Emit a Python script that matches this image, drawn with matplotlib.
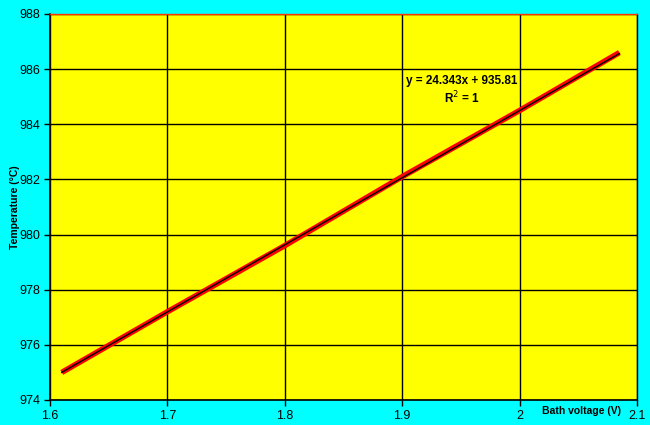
import matplotlib
matplotlib.use("Agg")
import matplotlib.pyplot as plt
import numpy as np

plt.rcParams["font.family"] = ["Liberation Sans", "DejaVu Sans"]

# Data
voltage = [1.61, 1.70, 1.80, 1.90, 2.00, 2.085]
temperature = [975.0, 977.2, 979.6, 982.1, 984.5, 986.6]
slope = 24.343
intercept = 935.81
xticks = [1.6, 1.7, 1.8, 1.9, 2.0, 2.1]
xticklabels = ["1.6", "1.7", "1.8", "1.9", "2", "2.1"]
yticks = [974, 976, 978, 980, 982, 984, 986, 988]

fig = plt.figure(figsize=(6.5, 4.25), dpi=100, facecolor="#00FFFF")
ax = fig.add_axes([50/650, 25/425, 587/650, 386/425])
ax.set_facecolor("#FFFF00")

ax.plot(voltage, temperature, color="#FF0000", lw=4.0, solid_capstyle="butt", zorder=3)
xt = np.array([voltage[0], voltage[-1]])
ax.plot(xt, slope * xt + intercept, color="black", lw=1.0, zorder=4)

ax.set_xlim(1.6, 2.1)
ax.set_ylim(974, 988)
ax.set_xticks(xticks)
ax.set_xticklabels(xticklabels)
ax.set_yticks(yticks)
ax.grid(True, color="black", lw=1.0)
ax.set_axisbelow(True)
ax.tick_params(direction="out", length=4, width=1, labelsize=9, pad=3, colors="black")

for s in ["left", "bottom"]:
    ax.spines[s].set_color("black")
    ax.spines[s].set_linewidth(1.2)
ax.spines["top"].set_color("#FF3300")
ax.spines["top"].set_linewidth(1.0)
ax.spines["right"].set_color("#000080")
ax.spines["right"].set_linewidth(1.0)

fig.text(15/650, 1 - 207/425, "Temperature (°C)", rotation=90, ha="center", va="center",
         fontsize=7.5, fontweight="bold")
fig.text(582/650, 1 - 411/425, "Bath voltage (V)", ha="center", va="center",
         fontsize=7.5, fontweight="bold")

fig.text(462/650, 1 - 81/425, "y = 24.343x + 935.81", ha="center", va="center",
         fontsize=8.5, fontweight="bold")
fig.text(462/650, 1 - 98/425, "R$^2$ = 1", ha="center", va="center",
         fontsize=8.5, fontweight="bold")

fig.savefig("out.png", dpi=100, facecolor=fig.get_facecolor())
